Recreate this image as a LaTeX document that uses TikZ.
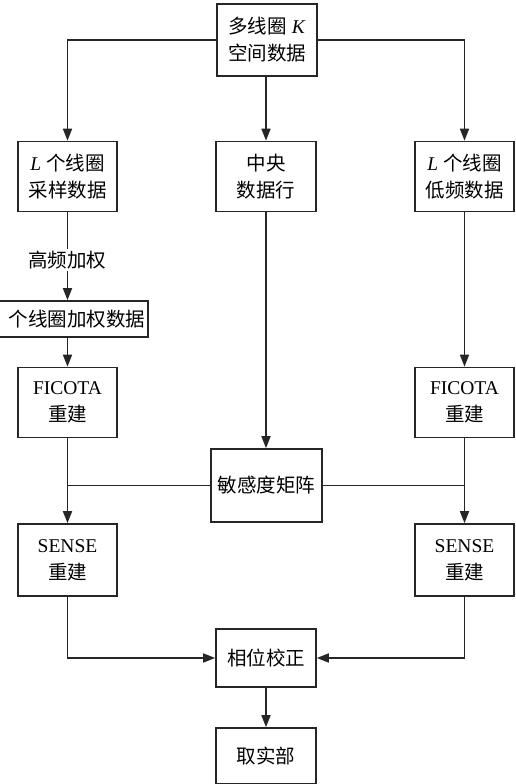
\documentclass[tikz,border=0pt]{standalone}
\usepackage{fontspec}
\setmainfont{Liberation Serif}
\newfontfamily\cjk{Noto Sans CJK SC}
\usetikzlibrary{arrows.meta}
\tikzset{
  box/.style={draw=black!85, line width=1.6pt, fill=white, minimum width=99pt, minimum height=70pt, inner sep=2pt, align=center, font=\fontsize{19.5}{27}\selectfont},
  arr/.style={line width=1.6pt, draw=black!85, -{Triangle[length=12pt,width=9pt]}},
  ln/.style={line width=1.6pt, draw=black!85},
  lbl/.style={font=\fontsize{19.5}{27}\selectfont, inner sep=2pt}
}
\begin{document}
\begin{tikzpicture}[x=1pt,y=-1pt]
\useasboundingbox (0,0) rectangle (515,784);
\clip (0,0) rectangle (515,784);
\node[box, minimum width=100pt, minimum height=72pt] (top) at (267,40) {{\cjk 多线圈} \textit{K}\\{\cjk 空间数据}};
\node[box] (L1) at (67.5,176.5) {\textit{L} {\cjk 个线圈}\\{\cjk 采样数据}};
\node[box, minimum width=100pt] (M1) at (266,176.5) {{\cjk 中央}\\{\cjk 数据行}};
\node[box] (R1) at (464.5,176.5) {\textit{L} {\cjk 个线圈}\\{\cjk 低频数据}};
\node[lbl] (hf) at (67,260) {\cjk 高频加权};
\node[box, minimum height=36pt, text width=170pt, align=right, inner xsep=3pt, minimum width=0pt, anchor=east] (wt) at (149,319) {\cjk 个线圈加权数据};
\node[box] (FL) at (67.5,402.5) {FICOTA\\{\cjk 重建}};
\node[box] (FR) at (464.5,402.5) {FICOTA\\{\cjk 重建}};
\node[box, minimum width=111pt, minimum height=73pt] (sens) at (266.5,485.5) {\cjk 敏感度矩阵};
\node[box, minimum height=72pt] (SL) at (67.5,560) {SENSE\\{\cjk 重建}};
\node[box, minimum height=72pt] (SR) at (464.5,560) {SENSE\\{\cjk 重建}};
\node[box, minimum width=100pt, minimum height=58pt] (ph) at (266,658) {\cjk 相位校正};
\node[box, minimum width=100pt, minimum height=56pt] (fin) at (266,756) {\cjk 取实部};

\draw[arr] (top.west) -| (L1.north);
\draw[arr] (top.east) -| (R1.north);
\draw[arr] (top.south -| M1.north) -- (M1.north);
\draw[ln] (L1.south) -- (hf.north -| L1.south);
\draw[arr] (hf.south -| L1.south) -- (wt.north -| L1.south);
\draw[arr] (wt.south -| FL.north) -- (FL.north);
\draw[arr] (M1.south) -- (sens.north -| M1.south);
\draw[arr] (R1.south) -- (FR.north);
\draw[arr] (FL.south) -- (SL.north);
\draw[arr] (FR.south) -- (SR.north);
\draw[ln] (sens.west) -- (sens.west -| FL.south);
\draw[ln] (sens.east) -- (sens.east -| FR.south);
\draw[arr] (SL.south) |- (ph.west);
\draw[arr] (SR.south) |- (ph.east);
\draw[arr] (ph.south) -- (fin.north);
\end{tikzpicture}
\end{document}
